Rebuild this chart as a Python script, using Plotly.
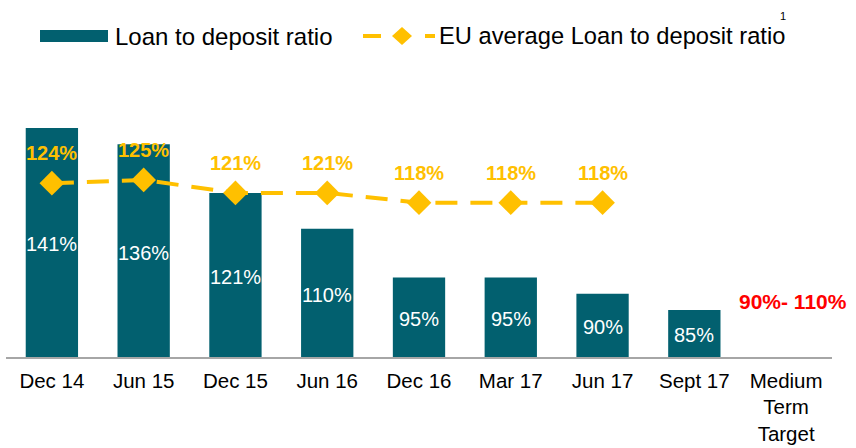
import plotly.graph_objects as go

categories = ["Dec 14", "Jun 15", "Dec 15", "Jun 16", "Dec 16", "Mar 17", "Jun 17", "Sept 17", "Medium<br>Term<br>Target"]
ltd_ratio = [141, 136, 121, 110, 95, 95, 90, 85, None]
eu_avg = [124, 125, 121, 121, 118, 118, 118, None, None]
target_label = "90%- 110%"
target_label_y = 87.5
legend_names = ["Loan to deposit ratio", "EU average Loan to deposit ratio"]
y_range = [70.5, 149.6]

TEAL = "#02606F"
GOLD = "#FFC000"
FONT = "Liberation Sans, Arial, sans-serif"

W, H = 856, 448
L, R, T, B = 6, 24, 100, 91
PW, PH = W - L - R, H - T - B


def px(x):
    return (x - L) / PW


def py(y):
    return (H - B - y) / PH


fig = go.Figure()
fig.add_trace(go.Bar(
    x=categories, y=ltd_ratio, name=legend_names[0],
    marker=dict(color=TEAL, line=dict(width=0)),
    width=0.57, textposition="none",
    showlegend=False,
))
fig.add_trace(go.Scatter(
    x=categories, y=eu_avg, name=legend_names[1],
    mode="lines+markers",
    line=dict(color=GOLD, width=4, dash="22px,13px"),
    marker=dict(symbol="diamond", size=19, color=GOLD),
    showlegend=False,
))

# bar value labels, centred in the visible part of each bar
for c, v in zip(categories, ltd_ratio):
    if v is None:
        continue
    fig.add_annotation(x=c, y=(v + y_range[0]) / 2, text=f"{v}%", showarrow=False,
                       yshift=-2, font=dict(color="white", size=20, family=FONT))

for c, v in zip(categories, eu_avg):
    if v is None:
        continue
    fig.add_annotation(x=c, y=v, text=f"<b>{v}%</b>", showarrow=False,
                       yshift=30, font=dict(color=GOLD, size=20, family=FONT))

fig.add_annotation(x=categories[-1], y=target_label_y, text=f"<b>{target_label}</b>",
                   showarrow=False, xshift=7, font=dict(color="#FF0000", size=21, family=FONT))

# manual legend
fig.add_shape(type="rect", xref="paper", yref="paper",
              x0=px(40), x1=px(108), y0=py(42), y1=py(30),
              fillcolor=TEAL, line=dict(width=0))
fig.add_annotation(xref="paper", yref="paper", x=px(113), y=py(36), xanchor="left",
                   yanchor="middle", text=legend_names[0], showarrow=False,
                   font=dict(size=24, family=FONT, color="black"))
fig.add_shape(type="line", xref="paper", yref="paper", x0=px(363), x1=px(381),
              y0=py(36), y1=py(36), line=dict(color=GOLD, width=4))
fig.add_shape(type="line", xref="paper", yref="paper", x0=px(425), x1=px(435),
              y0=py(36), y1=py(36), line=dict(color=GOLD, width=4))
cx, cy, hw, hh = 402, 36, 10, 9
fig.add_shape(type="path", xref="paper", yref="paper",
              path=f"M {px(cx-hw)} {py(cy)} L {px(cx)} {py(cy-hh)} L {px(cx+hw)} {py(cy)} L {px(cx)} {py(cy+hh)} Z",
              fillcolor=GOLD, line=dict(width=0))
fig.add_annotation(xref="paper", yref="paper", x=px(437), y=py(36), xanchor="left",
                   yanchor="middle", text=legend_names[1], showarrow=False,
                   font=dict(size=23.7, family=FONT, color="black"))
fig.add_annotation(xref="paper", yref="paper", x=px(787), y=py(9), text="1",
                   showarrow=False, borderpad=0, font=dict(size=11, color="black", family=FONT))

fig.update_layout(
    width=W, height=H,
    margin=dict(l=L, r=R, t=T, b=B),
    plot_bgcolor="white", paper_bgcolor="white",
    font=dict(family=FONT, color="black", size=21),
    showlegend=False,
    xaxis=dict(showline=True, linecolor="#A6A6A6", linewidth=2, ticks="",
               tickfont=dict(size=20.5, family=FONT), showgrid=False, tickangle=0,
               ticklabelstandoff=4, range=[-0.5, 8.5], automargin=False),
    yaxis=dict(range=y_range, visible=False, showgrid=False, automargin=False),
)

fig.write_html("out.html", config={"displayModeBar": False},
               post_script="document.body.style.margin='0px';document.body.style.overflow='hidden';")
